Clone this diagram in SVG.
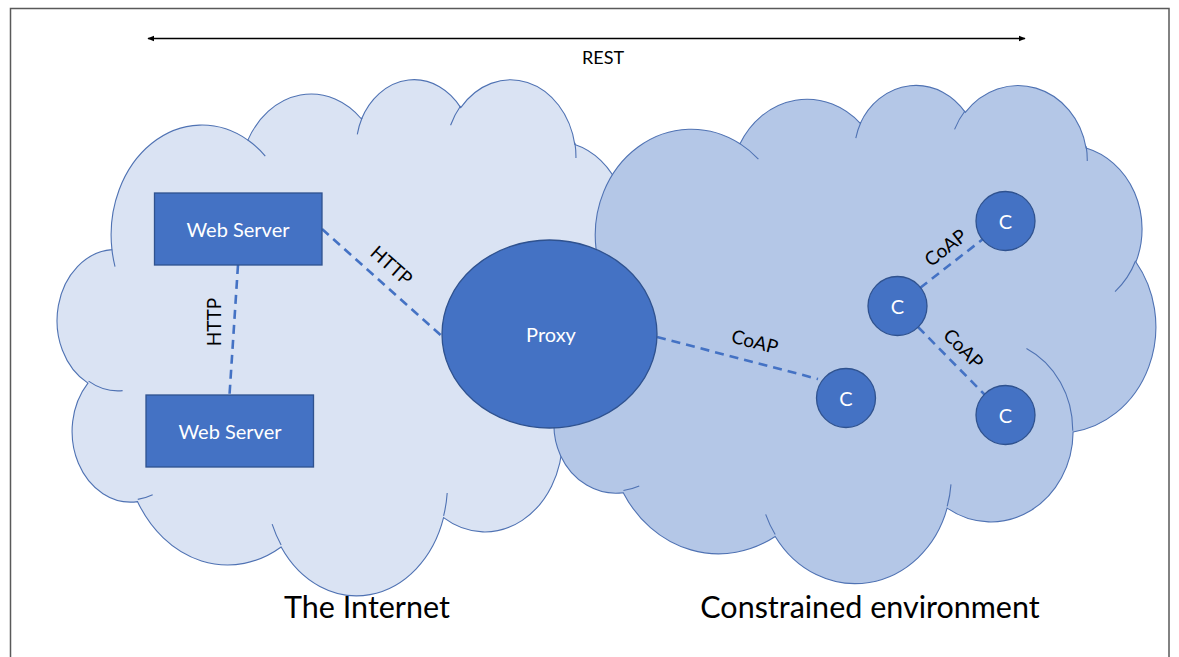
<svg xmlns="http://www.w3.org/2000/svg" width="1179" height="657" viewBox="0 0 1179 657">
  <style>
    .frame { fill: none; stroke: #595959; stroke-width: 1.5; }
    .rest-line { stroke: #000; stroke-width: 1.5; }
    .cloud-net { fill: #DAE3F3; stroke: #4F72B3; stroke-width: 1.1; }
    .cloud-con { fill: #B4C7E7; stroke: #4F72B3; stroke-width: 1.1; }
    .fold { fill: none; stroke: #4F72B3; stroke-width: 1.1; }
    .node { fill: #4472C4; stroke: #2F528F; stroke-width: 1.3; }
    .node-text { fill: #FFFFFF; font-family: Lato, "Open Sans", sans-serif; font-size: 20px; text-anchor: middle; dominant-baseline: central; }
    .link { fill: none; stroke: #4472C4; stroke-width: 2.6; stroke-dasharray: 9 6; }
    .link-label { fill: #000; font-family: Lato, "Open Sans", sans-serif; font-size: 19px; text-anchor: middle; dominant-baseline: central; }
    .caption { fill: #000; font-family: Lato, "Open Sans", sans-serif; font-size: 30.5px; text-anchor: middle; }
  </style>
  <defs>
    <!-- cloud outline in a 43200 x 43200 unit box -->
    <path id="cloud-outline" vector-effect="non-scaling-stroke" d="M3900 14370 A6753 9190 0 0 1 14005 5202 A5333 7267 0 0 1 22456 3431 A4365 5945 0 0 1 29833 2480 A4857 6595 0 0 1 38318 5575 A5333 7273 0 0 1 41818 15459 A6775 9220 0 0 1 37405 30202 A5785 7867 0 0 1 28556 36812 A6752 9215 0 0 1 16481 39263 A7720 10543 0 0 1 5805 35469 A4360 5918 0 0 1 2114 25547 A4345 5945 0 0 1 3900 14370 Z"/>
    <!-- inner creases where the puffs overlap -->
    <path id="cloud-folds" vector-effect="non-scaling-stroke" d="M4693 26177 A4345 5945 0 0 1 2160 25380 M6928 34899 A4360 5918 0 0 1 5820 35281 M16478 39090 A6752 9215 0 0 1 15810 37350 M28827 34751 A6752 9215 0 0 1 28560 36660 M34129 22954 A5785 7867 0 0 1 37380 30090 M41798 15354 A5333 7273 0 0 1 40352 18028 M38324 5426 A4857 6595 0 0 1 38400 6690 M29078 3952 A4857 6595 0 0 1 29820 2341 M22141 4720 A4365 5945 0 0 1 22500 3330 M14000 5192 A6753 9190 0 0 1 15300 6540 M4127 15789 A6753 9190 0 0 1 3900 14370"/>
    <marker id="tip" viewBox="0 0 10 10" refX="9" refY="5" markerWidth="7" markerHeight="7" markerUnits="userSpaceOnUse" orient="auto-start-reverse">
      <path d="M0 1 L10 5 L0 9 Z" fill="#000"/>
    </marker>
  </defs>

  <rect class="frame" x="10.5" y="8.5" width="1158.5" height="670"/>

  <!-- REST span -->
  <g id="rest">
    <line class="rest-line" x1="148" y1="38.5" x2="1025" y2="38.5" marker-start="url(#tip)" marker-end="url(#tip)"/>
    <text x="603" y="64" style="fill:#000;font-family:Lato,'Open Sans',sans-serif;font-size:18px;text-anchor:middle">REST</text>
  </g>

  <!-- The Internet -->
  <g id="cloud-internet" transform="translate(59.5 78) scale(0.013449 0.011944)">
    <use href="#cloud-outline" class="cloud-net"/>
    <use href="#cloud-folds" class="fold"/>
  </g>

  <!-- Constrained environment -->
  <g id="cloud-constrained" transform="translate(540.6 83.8) scale(0.014236 0.011528)">
    <use href="#cloud-outline" class="cloud-con"/>
    <use href="#cloud-folds" class="fold"/>
  </g>

  <g id="connectors">
    <line class="link" x1="238" y1="265" x2="229.5" y2="395"/>
    <text class="link-label" transform="translate(213 322) rotate(-90)">HTTP</text>
    <line class="link" x1="322" y1="229" x2="444" y2="338"/>
    <text class="link-label" transform="translate(392 265) rotate(41.5)">HTTP</text>
    <line class="link" x1="657" y1="337" x2="818" y2="379"/>
    <text class="link-label" transform="translate(755 341) rotate(14.5)">CoAP</text>
    <line class="link" x1="920" y1="288" x2="983" y2="239"/>
    <text class="link-label" transform="translate(945 247) rotate(-38)">CoAP</text>
    <line class="link" x1="918" y1="327" x2="985" y2="395"/>
    <text class="link-label" transform="translate(964 348) rotate(45.5)">CoAP</text>
  </g>

  <g id="web-server-1">
    <rect class="node" x="154.5" y="193" width="167.5" height="72"/>
    <text class="node-text" x="238" y="229">Web Server</text>
  </g>
  <g id="web-server-2">
    <rect class="node" x="146" y="395" width="167.5" height="72"/>
    <text class="node-text" x="230" y="431">Web Server</text>
  </g>
  <g id="proxy">
    <ellipse class="node" cx="549.5" cy="334" rx="107.5" ry="94"/>
    <text class="node-text" x="551" y="334">Proxy</text>
  </g>
  <g id="c-near">
    <circle class="node" cx="846" cy="398" r="29.5"/>
    <text class="node-text" x="846" y="398">C</text>
  </g>
  <g id="c-hub">
    <circle class="node" cx="897.5" cy="306" r="29.5"/>
    <text class="node-text" x="897.5" y="306">C</text>
  </g>
  <g id="c-top">
    <circle class="node" cx="1005.5" cy="221" r="29.5"/>
    <text class="node-text" x="1005.5" y="221">C</text>
  </g>
  <g id="c-bottom">
    <circle class="node" cx="1005.5" cy="415" r="29.5"/>
    <text class="node-text" x="1005.5" y="415">C</text>
  </g>

  <g id="captions">
    <text class="caption" x="367" y="618">The Internet</text>
    <text class="caption" x="870" y="618">Constrained environment</text>
  </g>
</svg>
